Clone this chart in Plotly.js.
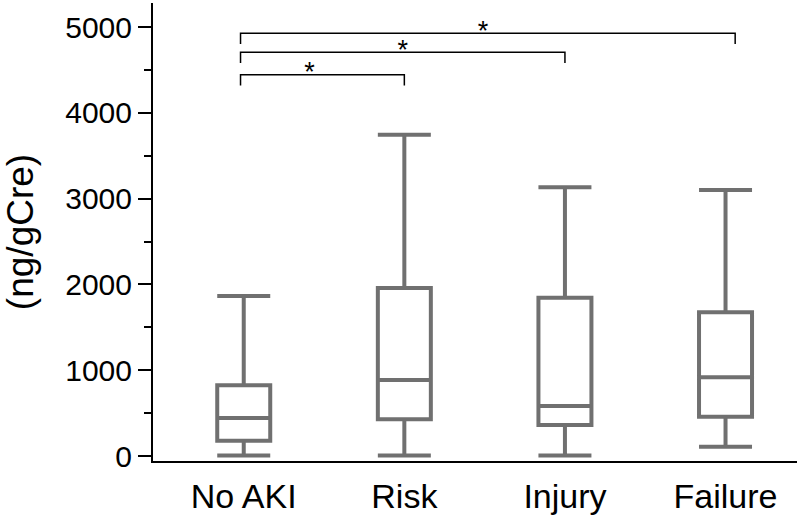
<!DOCTYPE html>
<html>
<head>
<meta charset="utf-8">
<script src="https://cdn.plot.ly/plotly-3.0.1.min.js"></script>
<style>html,body{margin:0;padding:0;background:#fff;}#chart{width:799px;height:520px;}</style>
</head>
<body>
<div id="chart"></div>
<script>
// Categories and box statistics (ng/gCre)
var categories = ["No AKI", "Risk", "Injury", "Failure"];
var lowerWhisker = [5, 5, 5, 108];
var q1Values = [178, 428, 361, 458];
var medianValues = [443, 886, 583, 917];
var q3Values = [824, 1958, 1845, 1675];
var upperWhisker = [1865, 3745, 3132, 3100];

// Significance brackets: start/end category positions, bar height, label
var bracketStart = [-0.02, -0.02, -0.02];
var bracketEnd = [1, 2, 3.06];
var bracketHeight = [4444, 4705, 4927];
var bracketDrop = 125;
var bracketLabelX = [0.41, 0.99, 1.49];
var bracketLabel = ["*", "*", "*"];

var yTicks = [0, 1000, 2000, 3000, 4000, 5000];

var traces = [];
var boxColor = "#707070";
categories.forEach(function (c, i) {
  traces.push({
    type: "box",
    x: [i],
    lowerfence: [lowerWhisker[i]],
    q1: [q1Values[i]],
    median: [medianValues[i]],
    q3: [q3Values[i]],
    upperfence: [upperWhisker[i]],
    width: 0.33,
    whiskerwidth: 1,
    line: {color: boxColor, width: 4},
    fillcolor: "rgba(255,255,255,0)",
    boxpoints: false,
    hoverinfo: "skip",
    showlegend: false
  });
});

bracketStart.forEach(function (s, i) {
  var e = bracketEnd[i], h = bracketHeight[i];
  traces.push({
    type: "scatter",
    mode: "lines",
    x: [s, s, e, e],
    y: [h - bracketDrop, h, h, h - bracketDrop],
    line: {color: "#000", width: 1.5},
    hoverinfo: "skip",
    showlegend: false
  });
});

traces.push({
  type: "scatter",
  mode: "text",
  x: bracketLabelX,
  y: bracketHeight,
  text: bracketLabel,
  textposition: "middle center",
  textfont: {family: "Liberation Sans, Arial, sans-serif", size: 27, color: "#000"},
  hoverinfo: "skip",
  showlegend: false
});

var layout = {
  width: 799,
  height: 520,
  margin: {l: 153, r: 2, t: 3, b: 59},
  paper_bgcolor: "#fff",
  plot_bgcolor: "#fff",
  font: {family: "Liberation Sans, Arial, sans-serif", color: "#000"},
  xaxis: {
    range: [-0.565, 3.445],
    tickvals: [0, 1, 2, 3],
    ticktext: categories,
    ticks: "",
    ticklabelstandoff: 4,
    showline: true,
    linecolor: "#000",
    linewidth: 2,
    showgrid: false,
    zeroline: false,
    tickfont: {size: 34, color: "#000"}
  },
  yaxis: {
    range: [-58, 5280],
    tickvals: yTicks,
    ticks: "outside",
    ticklen: 13,
    tickwidth: 2,
    tickcolor: "#000",
    minor: {dtick: 500, ticks: "outside", ticklen: 7, tickwidth: 2, tickcolor: "#000", showgrid: false},
    showline: true,
    linecolor: "#000",
    linewidth: 2,
    showgrid: false,
    zeroline: false,
    tickfont: {size: 30, color: "#000"},
    title: {text: "(ng/gCre)", font: {size: 37, color: "#000"}, standoff: 20}
  }
};

Plotly.newPlot("chart", traces, layout, {displayModeBar: false, staticPlot: true});
</script>
</body>
</html>
